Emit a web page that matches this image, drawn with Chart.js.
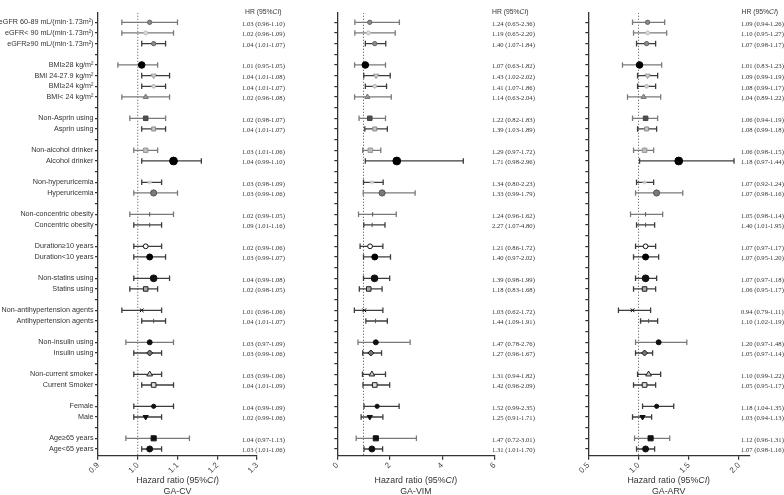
<!DOCTYPE html>
<html><head><meta charset="utf-8">
<script src="https://cdn.jsdelivr.net/npm/chart.js@4.4.1/dist/chart.umd.min.js"></script>
<style>
html,body{margin:0;padding:0;background:#fff;width:784px;height:495px;overflow:hidden}
canvas{position:absolute;left:0;top:0}
</style></head><body>
<canvas id="c1" width="784" height="495"></canvas>
<canvas id="c2" width="784" height="495"></canvas>
<canvas id="c3" width="784" height="495"></canvas>
<script>
// ---------------- DATA ----------------
const categories = [
  "eGFR 60-89 mL/(min·1.73m²)","eGFR< 90 mL/(min·1.73m²)","eGFR≥90 mL/(min·1.73m²)",
  "BMI≥28 kg/m²","BMI 24-27.9 kg/m²","BMI≥24 kg/m²","BMI< 24 kg/m²",
  "Non-Asprin using","Asprin using",
  "Non-alcohol drinker","Alcohol drinker",
  "Non-hyperuricemia","Hyperuricemia",
  "Non-concentric obesity","Concentric obesity",
  "Duration≥10 years","Duration<10 years",
  "Non-statins using","Statins using",
  "Non-antihypertension agents","Antihypertension agents",
  "Non-insulin using","Insulin using",
  "Non-current smoker","Current Smoker",
  "Female","Male",
  "Age≥65 years","Age<65 years"
];
const groupSizes = [3,4,2,2,2,2,2,2,2,2,2,2,2];

// GA-CV
const cvHR = [1.03,1.02,1.04,1.01,1.04,1.04,1.02,1.02,1.04,1.02,1.09,1.03,1.04,1.03,1.03,1.02,1.03,1.04,1.02,1.01,1.04,1.03,1.03,1.03,1.04,1.04,1.02,1.04,1.03];
const cvLo = [0.96,0.96,1.01,0.95,1.01,1.01,0.96,0.98,1.01,0.99,1.01,1.01,0.99,0.98,0.99,0.99,0.99,0.99,0.98,0.96,1.01,0.97,0.99,0.99,1.01,0.99,0.99,0.97,1.01];
const cvHi = [1.10,1.09,1.07,1.05,1.08,1.07,1.08,1.07,1.07,1.05,1.16,1.06,1.10,1.09,1.06,1.06,1.07,1.08,1.05,1.06,1.07,1.09,1.06,1.06,1.09,1.09,1.06,1.13,1.06];
const cvText = ["1.03 (0.96-1.10)","1.02 (0.96-1.09)","1.04 (1.01-1.07)","1.01 (0.95-1.05)","1.04 (1.01-1.08)","1.04 (1.01-1.07)","1.02 (0.96-1.08)","1.02 (0.98-1.07)","1.04 (1.01-1.07)","1.03 (1.01-1.06)","1.04 (0.99-1.10)","1.03 (0.98-1.09)","1.03 (0.99-1.06)","1.02 (0.99-1.05)","1.09 (1.01-1.16)","1.02 (0.99-1.06)","1.03 (0.99-1.07)","1.04 (0.99-1.08)","1.02 (0.98-1.05)","1.01 (0.96-1.06)","1.04 (1.01-1.07)","1.03 (0.97-1.09)","1.03 (0.99-1.06)","1.03 (0.99-1.06)","1.04 (1.01-1.09)","1.04 (0.99-1.09)","1.02 (0.99-1.06)","1.04 (0.97-1.13)","1.03 (1.01-1.06)"];
const cvTicks = [0.9,1.0,1.1,1.2,1.3];
const cvTickLabels = ["0.9","1.0","1.1","1.2","1.3"];

// GA-VIM
const vimHR = [1.24,1.19,1.43,1.07,1.48,1.43,1.15,1.24,1.43,1.26,2.27,1.32,1.71,1.35,1.33,1.25,1.43,1.42,1.20,1.03,1.46,1.47,1.28,1.32,1.43,1.52,1.24,1.47,1.32];
const vimLo = [0.67,0.67,1.07,0.66,1.01,1.07,0.66,0.83,1.05,0.97,1.07,1.00,0.99,0.81,1.01,0.87,1.00,1.00,0.84,0.65,1.09,0.79,0.97,0.96,0.98,1.02,0.91,0.72,1.02];
const vimHi = [2.37,2.21,1.85,1.84,2.02,1.88,2.06,1.84,1.91,1.66,4.81,1.75,2.97,2.25,1.82,1.74,2.03,2.00,1.71,1.74,1.91,2.78,1.69,1.84,2.00,2.36,1.74,3.02,1.73];
const vimText = ["1.24 (0.65-2.36)","1.19 (0.65-2.20)","1.40 (1.07-1.84)","1.07 (0.63-1.82)","1.43 (1.02-2.02)","1.41 (1.07-1.86)","1.14 (0.63-2.04)","1.22 (0.82-1.83)","1.39 (1.03-1.89)","1.29 (0.97-1.72)","1.71 (0.98-2.96)","1.34 (0.80-2.23)","1.33 (0.99-1.79)","1.24 (0.96-1.62)","2.27 (1.07-4.80)","1.21 (0.86-1.72)","1.40 (0.97-2.02)","1.39 (0.98-1.99)","1.18 (0.83-1.68)","1.03 (0.62-1.72)","1.44 (1.09-1.91)","1.47 (0.78-2.76)","1.27 (0.96-1.67)","1.31 (0.94-1.82)","1.42 (0.96-2.09)","1.52 (0.99-2.35)","1.25 (0.91-1.71)","1.47 (0.72-3.01)","1.31 (1.01-1.70)"];
const vimTicks = [0,2,4,6];
const vimTickLabels = ["0","2","4","6"];

// GA-ARV
const arvHR = [1.09,1.09,1.08,1.01,1.09,1.08,1.05,1.07,1.08,1.06,1.40,1.06,1.18,1.07,1.07,1.07,1.07,1.07,1.06,0.94,1.10,1.20,1.06,1.10,1.06,1.18,1.04,1.12,1.07];
const arvLo = [0.94,0.95,0.98,0.84,0.99,0.99,0.89,0.94,0.99,0.95,1.01,0.98,0.97,0.92,0.98,0.97,0.95,0.97,0.95,0.80,1.02,0.97,0.97,0.99,0.95,1.04,0.94,0.96,0.98];
const arvHi = [1.26,1.28,1.17,1.23,1.19,1.17,1.22,1.19,1.18,1.15,1.95,1.15,1.44,1.24,1.16,1.17,1.20,1.18,1.17,1.12,1.19,1.48,1.14,1.22,1.17,1.35,1.13,1.31,1.16];
const arvText = ["1.09 (0.94-1.26)","1.10 (0.95-1.27)","1.07 (0.98-1.17)","1.01 (0.83-1.23)","1.09 (0.99-1.19)","1.08 (0.99-1.17)","1.04 (0.89-1.22)","1.06 (0.94-1.19)","1.08 (0.99-1.18)","1.06 (0.98-1.15)","1.18 (0.97-1.44)","1.07 (0.92-1.24)","1.07 (0.98-1.16)","1.05 (0.98-1.14)","1.40 (1.01-1.95)","1.07 (0.97-1.17)","1.07 (0.95-1.20)","1.07 (0.97-1.18)","1.06 (0.95-1.17)","0.94 (0.79-1.11)","1.10 (1.02-1.19)","1.20 (0.97-1.48)","1.05 (0.97-1.14)","1.10 (0.99-1.22)","1.05 (0.95-1.17)","1.18 (1.04-1.35)","1.03 (0.94-1.13)","1.12 (0.96-1.31)","1.07 (0.98-1.16)"];
const arvTicks = [0.5,1.0,1.5,2.0];
const arvTickLabels = ["0.5","1.0","1.5","2.0"];

const panelTitles = ["GA-CV","GA-VIM","GA-ARV"];

// ---------------- STYLES ----------------
const markerStyle = ['circle','circle','circle','circle','triangle','circle','triangle','rect','rect','rect','circle','star','circle','line','line','circle','circle','circle','rect','crossRot','line','circle','rectRot','triangle','rect','circle','triangle','rect','circle'];
const markerRadius = [2.2,2,2.2,3.3,3,1.8,3,3.2,2.8,3.2,3.9,2.2,3.1,2.2,2.2,2.4,3,3.4,3.2,2.6,2.2,2.5,3,3.3,3.3,2.1,3,3.6,3];
const markerRot = [0,0,0,0,180,0,0,0,0,0,0,0,0,90,90,0,0,0,0,0,90,0,0,0,0,0,180,0,0];
const markerFill = ['#8a8a8a','#dcdcdc','#8a8a8a','#000','#cfcfcf','#dddddd','#9a9a9a','#505050','#c8c8c8','#bdbdbd','#000','#eeeeee','#7a7a7a','#555','#555','#fff','#000','#111','#aaaaaa','#000','#555','#111','#777','#cccccc','#dddddd','#111','#111','#111','#111'];
const markerStroke = ['#666','#bbb','#666','#000','#999','#aaa','#777','#444','#888','#999','#000','#ccc','#555','#555','#555','#111','#000','#111','#222','#000','#555','#111','#111','#222','#222','#111','#111','#111','#111'];
const ciGray = [0,1,3,6,7,9,12,13,21,27];

const SANS = "Arial, 'Liberation Sans', sans-serif";
const SERIF = "'Times New Roman', 'Liberation Serif', serif";
const Y_MIN = -0.9, Y_MAX = 40.63;

// row positions (gap slot between groups)
const rowPos = [];
(function(){ let p = 0; groupSizes.forEach(n => { for (let k = 0; k < n; k++) rowPos.push(p++); p++; }); })();
const labelAt = {};
rowPos.forEach((p, i) => labelAt[p] = categories[i]);
const allTicks = []; for (let p = 0; p <= rowPos[rowPos.length-1]; p++) allTicks.push(p);

function drawMixed(ctx, parts, x, y, align, size) {
  let widths = parts.map(([t, it]) => { ctx.font = (it ? 'italic ' : '') + size + 'px ' + SANS; return ctx.measureText(t).width; });
  const total = widths.reduce((a,b)=>a+b,0);
  let cx = align === 'center' ? x - total/2 : x;
  parts.forEach(([t, it], i) => { ctx.font = (it ? 'italic ' : '') + size + 'px ' + SANS; ctx.fillText(t, cx, y); cx += widths[i]; });
}

function makeForest(id, o) {
  const datasets = [];
  datasets.push({
    data: o.hr.map((v,i)=>({x:v, y:rowPos[i]})),
    showLine:false, order:0,
    pointStyle: markerStyle, pointRadius: markerRadius, pointRotation: markerRot,
    pointBackgroundColor: markerFill, pointBorderColor: markerStroke, pointBorderWidth: 1
  });
  o.hr.forEach((v,i)=>{
    const c = ciGray.includes(i) ? '#7a7a7a' : '#3c3c3c';
    datasets.push({
      data:[{x:o.lo[i], y:rowPos[i]},{x:o.hi[i], y:rowPos[i]}],
      showLine:true, order:1, borderColor:c, borderWidth:1.3,
      pointStyle:'line', pointRotation:90, pointRadius:2.8, pointBorderColor:c, pointBorderWidth:1.3
    });
  });
  datasets.push({
    data:[{x:1, y:Y_MIN},{x:1, y:Y_MAX}], showLine:true, order:2,
    borderColor:'#666', borderWidth:1, borderDash:[1.2,1.8], pointRadius:0
  });

  const textPlugin = {
    id:'txt'+id,
    afterDraw(chart){
      const ctx = chart.ctx, ys = chart.scales.y, ca = chart.chartArea;
      ctx.save();
      ctx.fillStyle = '#333';
      ctx.textBaseline = 'middle'; ctx.textAlign = 'left';
      ctx.font = '6.6px ' + SERIF;
      o.text.forEach((t,i)=>{ ctx.fillText(t, o.textX, ys.getPixelForValue(rowPos[i]) + 1.5); });
      drawMixed(ctx, [['HR (95%',false],['CI',true],[')',false]], o.headerX, 12, 'left', 6.8);
      const cx = (ca.left + ca.right)/2;
      drawMixed(ctx, [['Hazard ratio (95%',false],['CI',true],[')',false]], cx, 481, 'center', 8.8);
      drawMixed(ctx, [[o.title,false]], cx, 491.5, 'center', 8.8);
      ctx.restore();
    }
  };

  return new Chart(document.getElementById(id), {
    type:'scatter',
    data:{datasets},
    options:{
      responsive:false, animation:false, events:[],
      layout:{padding:{left:o.padLeft, right:o.padRight, top:12.7, bottom:0}},
      plugins:{legend:{display:false}, tooltip:{enabled:false}},
      scales:{
        x:{type:'linear', min:o.xmin, max:o.xmax,
           afterBuildTicks: s => { s.ticks = o.ticks.map(v=>({value:v})); },
           afterFit: s => { s.height = 495 - 455.7; },
           grid:{display:true, drawOnChartArea:false, drawTicks:true, tickLength:4, color:'#333', lineWidth:1.2},
           border:{display:true, color:'#333', width:1.3},
           ticks:{minRotation:45, maxRotation:45, autoSkip:false, padding:1, color:'#444',
                  font:{size:8, family:SANS}, callback:(v,i)=>o.tickLabels[i]}
        },
        y:{type:'linear', min:Y_MIN, max:Y_MAX, reverse:true,
           afterBuildTicks: s => { s.ticks = allTicks.map(v=>({value:v})); },
           afterFit: s => { s.width = o.yWidth; },
           grid:{display:true, drawOnChartArea:false, drawTicks:true, tickLength:3, color:'#333', lineWidth:1.2},
           border:{display:true, color:'#333', width:1.3},
           ticks:{autoSkip:false, padding:1.5, color:'#333', font:{size:7.2, family:SANS},
                  callback:(v)=> o.showLabels ? (labelAt[v] || '') : ''}
        }
      }
    },
    plugins:[textPlugin]
  });
}

makeForest('c1', {hr:cvHR, lo:cvLo, hi:cvHi, text:cvText, ticks:cvTicks, tickLabels:cvTickLabels,
  xmin:0.9, xmax:1.3, title:panelTitles[0], padLeft:0, yWidth:98, padRight:784-257, textX:242, headerX:245, showLabels:true});
makeForest('c2', {hr:vimHR, lo:vimLo, hi:vimHi, text:vimText, ticks:vimTicks, tickLabels:vimTickLabels,
  xmin:0, xmax:6, title:panelTitles[1], padLeft:333.3, yWidth:4, padRight:784-494.5, textX:492, headerX:492, showLabels:false});
makeForest('c3', {hr:arvHR, lo:arvLo, hi:arvHi, text:arvText, ticks:arvTicks, tickLabels:arvTickLabels,
  xmin:0.5, xmax:2.1, title:panelTitles[2], padLeft:584.3, yWidth:4, padRight:784-749.1, textX:741, headerX:741.5, showLabels:false});
</script>
</body></html>
